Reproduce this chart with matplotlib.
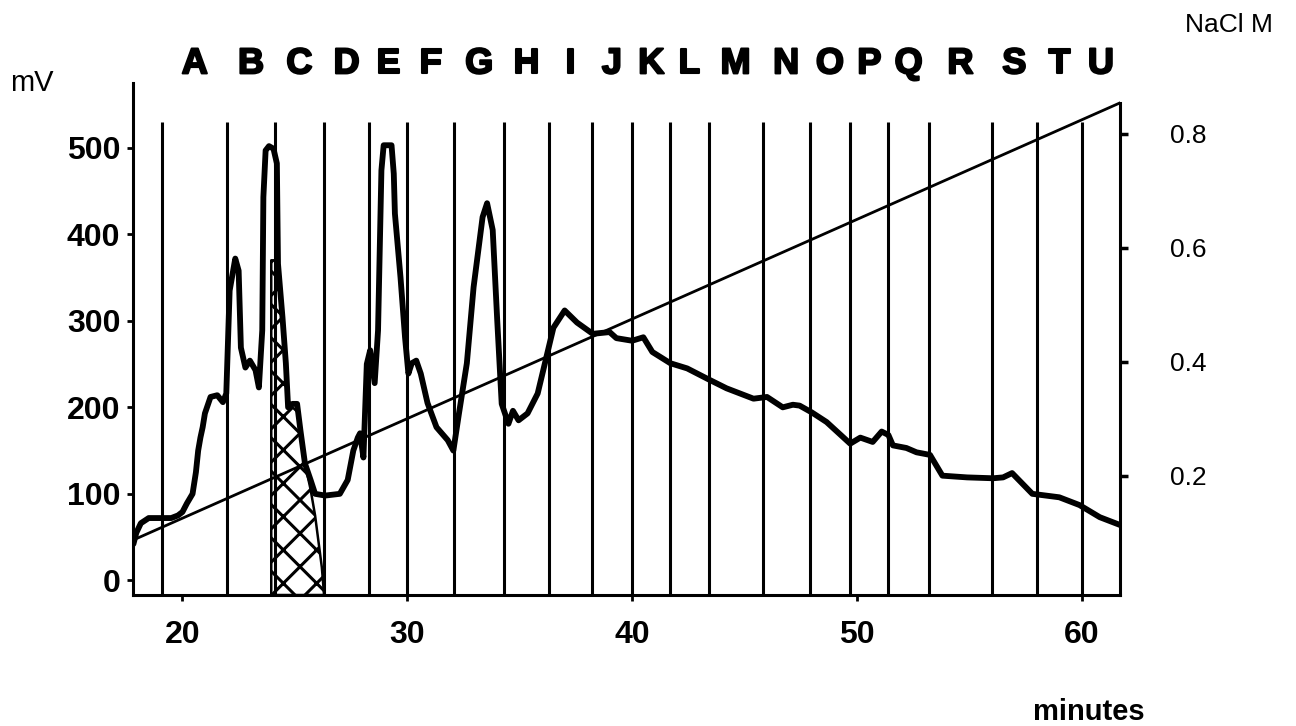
import matplotlib
matplotlib.use("Agg")
import matplotlib.pyplot as plt
import matplotlib.patheffects as pe
import matplotlib.transforms as mtransforms

plt.rcParams['font.family'] = ['Liberation Sans', 'DejaVu Sans']
plt.rcParams['hatch.linewidth'] = 2.2

# elution profile (minutes, mV)
trace_min = [17.82, 17.95, 18.15, 18.5, 19.0, 19.5, 19.8, 20.0, 20.2, 20.45,
             20.6, 20.7, 20.8, 20.9, 21.0, 21.25, 21.55, 21.8, 21.95, 22.1,
             22.35, 22.5, 22.6, 22.8, 23.0, 23.25, 23.4, 23.55, 23.6, 23.7,
             23.85, 24.05, 24.2, 24.25, 24.45, 24.6, 24.7, 24.9, 25.1, 25.25,
             25.45, 25.7, 25.9, 26.35, 27.0, 27.35, 27.6, 27.8, 27.9, 28.05,
             28.2, 28.35, 28.55, 28.7, 28.85, 28.95, 29.3, 29.4, 29.45, 29.7,
             29.9, 30.05, 30.2, 30.4, 30.6, 30.9, 31.3, 31.8, 32.05, 32.3,
             32.65, 32.95, 33.35, 33.55, 33.8, 34.0, 34.2, 34.5, 34.7, 34.95,
             35.35, 35.8, 36.15, 36.5, 37.0, 37.55, 38.25, 39.0, 39.3, 40.0,
             40.5, 40.9, 41.7, 42.45, 43.35, 44.2, 45.4, 46.0, 46.7, 47.15,
             47.45, 48.0, 48.65, 49.7, 50.15, 50.7, 51.1, 51.4, 51.6, 52.2,
             52.65, 53.25, 53.8, 54.9, 56.05, 56.5, 56.9, 57.8, 59.0, 59.9,
             60.8, 61.7]
trace_mv = [42, 55, 66, 72, 72, 72, 75, 79, 89, 100,
            125, 150, 165, 177, 193, 212, 214, 206, 216, 335,
            372, 358, 269, 246, 254, 243, 223, 289, 443, 497,
            502, 499, 482, 366, 304, 251, 200, 204, 204, 173,
            135, 116, 100, 98, 100, 116, 150, 165, 170, 142,
            250, 266, 228, 289, 474, 503, 503, 470, 424, 350,
            281, 239, 251, 254, 239, 205, 177, 162, 150, 193,
            251, 339, 420, 436, 405, 301, 204, 181, 196, 185,
            193, 216, 254, 292, 312, 298, 285, 287, 280, 277,
            281, 264, 251, 245, 233, 222, 210, 212, 200, 203,
            202, 194, 183, 158, 165, 160, 172, 168, 156, 153,
            148, 145, 121, 119, 118, 119, 124, 100, 96, 87,
            73, 64]

# hatched (pooled) part of fraction C
hatch_min = [23.95, 24.2, 24.3, 24.45, 24.6, 24.7, 24.9, 25.1, 25.25, 25.45,
             25.7, 25.9, 26.05, 26.2, 26.3]
hatch_mv = [370, 370, 340, 304, 251, 200, 200, 195, 170, 135,
            105, 75, 45, 15, -17]

# NaCl gradient
nacl_min = [17.8, 61.7]
nacl_m = [0.087, 0.854]

# fraction boundaries and names
fraction_edges = [19.1, 22.0, 24.1, 26.3, 28.3, 30.0, 32.1, 34.3, 36.3, 38.2,
                  40.0, 41.7, 43.4, 45.8, 47.9, 49.7, 51.4, 53.2, 56.0, 58.0, 60.0]
fraction_names = list("ABCDEFGHIJKLMNOPQRSTU")

mv_ticks = [0, 100, 200, 300, 400, 500]
min_ticks = [20, 30, 40, 50, 60]
nacl_ticks = [0.2, 0.4, 0.6, 0.8]

x_end = 61.7
mv_lim = (-17, 575)

fig = plt.figure(figsize=(12.96, 7.26), dpi=100)
ax = fig.add_axes([0.1026, 0.1804, 0.7616, 0.7053])
ax.set_xlim(17.8, x_end)
ax.set_ylim(*mv_lim)

# fraction lines
ax.vlines(fraction_edges, mv_lim[0], 530, color='black', lw=2.2, zorder=2)

# hatched peak
ax.fill_between(hatch_min, hatch_mv, mv_lim[0], facecolor='white',
                edgecolor='black', hatch='x', lw=1.8, zorder=1)

ax.plot(trace_min, trace_mv, color='black', lw=4.2,
        solid_joinstyle='round', solid_capstyle='round', zorder=4)

# fraction letters above the plot (x in minutes, y in figure fraction)
letter_tr = mtransforms.blended_transform_factory(ax.transData, fig.transFigure)
edges = fraction_edges + [x_end]
for name, a, b in zip(fraction_names, edges[:-1], edges[1:]):
    ax.text((a + b) / 2, 0.912, name, transform=letter_tr,
            ha='center', va='center', fontsize=26, fontweight='bold',
            clip_on=False,
            path_effects=[pe.withStroke(linewidth=1.5, foreground='black')])

for s in ['top', 'right']:
    ax.spines[s].set_visible(False)
for s in ['left', 'bottom']:
    ax.spines[s].set_linewidth(2.2)

ax.set_yticks(mv_ticks)
ax.set_yticklabels([str(v) for v in mv_ticks], fontweight='bold', fontsize=23)
ax.set_xticks(min_ticks)
ax.set_xticklabels([str(v) for v in min_ticks], fontweight='bold', fontsize=23)
ax.tick_params(axis='y', direction='out', length=4, width=2, pad=5)
ax.tick_params(axis='x', direction='out', length=4, width=2, pad=14)

ax2 = ax.twinx()
ax2.set_ylim(-0.0093, 0.8889)
ax2.plot(nacl_min, nacl_m, color='black', lw=2.0, zorder=3)
for s in ['top', 'left', 'bottom']:
    ax2.spines[s].set_visible(False)
ax2.spines['right'].set_linewidth(2.2)
ax2.spines['right'].set_bounds(-0.0093, nacl_m[-1])
ax2.set_yticks(nacl_ticks)
ax2.set_yticklabels([f"{v:.1f}" for v in nacl_ticks], fontsize=19)
ax2.tick_params(axis='y', direction='out', length=6, width=2.5, pad=30)

fig.text(0.0077, 0.886, "mV", fontsize=21, ha='left', va='center')
fig.text(0.914, 0.966, "NaCl M", fontsize=19, ha='left', va='center')
fig.text(0.797, 0.019, "minutes", fontsize=21, fontweight='bold',
         ha='left', va='center')

fig.savefig("out.png", dpi=100, facecolor='white')
